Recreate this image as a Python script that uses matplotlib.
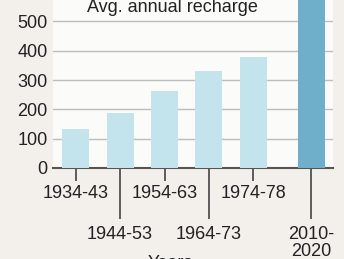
import matplotlib
matplotlib.use("Agg")
import matplotlib.pyplot as plt

# ── data ──────────────────────────────────────────────────────────────
periods = ["1934-43", "1944-53", "1954-63", "1964-73", "1974-78", "2010-\n2020"]
recharge = [132, 188, 264, 331, 380, 600]
positions = [0, 1, 2, 3, 4, 5.3]
upper_row = [0, 2, 4]   # labels on short ticks
lower_row = [1, 3, 5]   # labels on long ticks

plt.rcParams["font.family"] = ["Liberation Sans", "DejaVu Sans"]

fig = plt.figure(figsize=(3.44, 2.59), dpi=100)
fig.patch.set_facecolor("#f3f0ec")
ax = fig.add_axes([53 / 344, 91 / 259, 280 / 344, 168 / 259])
ax.set_facecolor("#fbfbfa")

colors = ["#c3e3ed"] * 5 + ["#70afca"]
ax.bar(positions, recharge, width=0.607, color=colors, zorder=3)

ax.set_xlim(-0.506, 5.787)
ax.set_ylim(0, 573)
ax.set_yticks([0, 100, 200, 300, 400, 500])
ax.yaxis.grid(True, color="#bdbdbd", lw=1.0, zorder=0)
ax.tick_params(axis="y", length=0, pad=4, labelsize=13, labelcolor="#222222")

ax.set_xticks([positions[i] for i in upper_row])
ax.set_xticklabels([periods[i] for i in upper_row])
ax.set_xticks([positions[i] for i in lower_row], minor=True)
ax.set_xticklabels([periods[i] for i in lower_row], minor=True)
ax.tick_params(axis="x", which="major", length=9, width=1.2, color="#444444",
               pad=3.5, labelsize=13, labelcolor="#222222")
ax.tick_params(axis="x", which="minor", length=37, width=1.2, color="#444444",
               pad=4.5, labelsize=13, labelcolor="#222222")
for lbl in ax.get_xticklabels(minor=True):
    lbl.set_linespacing(1.0)

for side in ["top", "right", "left"]:
    ax.spines[side].set_visible(False)
ax.spines["bottom"].set_color("#555555")
ax.spines["bottom"].set_linewidth(1.5)

ax.text(2.17, 546, "Avg. annual recharge", ha="center", va="center",
        fontsize=13, color="#222222", zorder=4)
fig.text(148 / 344, 4 / 259, "Years", ha="left", va="top",
         fontsize=13, color="#222222")

fig.savefig("out.png", dpi=100, facecolor=fig.get_facecolor())
